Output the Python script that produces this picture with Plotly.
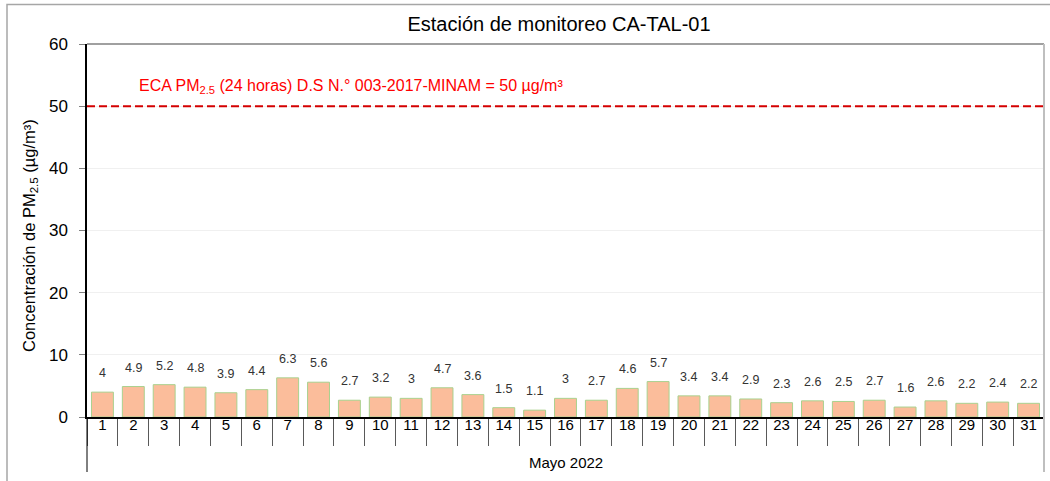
import plotly.graph_objects as go

# ---- data ----
days = [str(d) for d in range(1, 32)]
pm25 = [4, 4.9, 5.2, 4.8, 3.9, 4.4, 6.3, 5.6, 2.7, 3.2, 3, 4.7, 3.6, 1.5, 1.1,
        3, 2.7, 4.6, 5.7, 3.4, 3.4, 2.9, 2.3, 2.6, 2.5, 2.7, 1.6, 2.6, 2.2, 2.4, 2.2]
group_label = "Mayo 2022"
eca_value = 50
title_text = "Estación de monitoreo CA-TAL-01"
eca_text = "ECA PM<sub>2.5</sub> (24 horas) D.S N.° 003-2017-MINAM = 50 µg/m³"
y_title = "Concentración de PM<sub>2.5</sub> (µg/m³)"
y_ticks = [0, 10, 20, 30, 40, 50, 60]

FONT = "Liberation Sans, Arial, sans-serif"
W, H = 1050, 481
L, R, T, B = 87, 6, 44, 64
PW, PH = W - L - R, H - T - B

def px_x(px):
    return (px - L) / PW

def px_y(py):
    return (H - B - py) / PH

fig = go.Figure()
fig.add_trace(go.Bar(
    x=days, y=pm25,
    marker=dict(color="#FBBD9B", line=dict(color="#A9D18E", width=1)),
    hoverinfo="x+y",
))

# value labels above bars (category index positions)
for i, v in enumerate(pm25):
    fig.add_annotation(x=i, y=v, xref="x", yref="y", text=f"{v:g}",
                       showarrow=False, yanchor="middle", yshift=19,
                       font=dict(family=FONT, size=12.5, color="#333333"))

# ECA line
fig.add_shape(type="line", xref="paper", yref="y", x0=0, x1=1, y0=eca_value, y1=eca_value,
              line=dict(color="#D40000", width=2, dash="8px,4px"))
fig.add_annotation(xref="paper", yref="paper", x=px_x(137), y=px_y(87),
                   xanchor="left", yanchor="middle", showarrow=False, text=eca_text,
                   font=dict(family=FONT, size=16, color="#FF0000"))

# y title
fig.add_annotation(xref="paper", yref="paper", x=px_x(30), y=px_y(236), textangle=-90,
                   xanchor="center", yanchor="middle", showarrow=False, text=y_title,
                   font=dict(family=FONT, size=16.5, color="#000000"))

# group label
fig.add_annotation(xref="paper", yref="paper", x=0.5, y=px_y(462),
                   xanchor="center", yanchor="middle", showarrow=False, text=group_label,
                   font=dict(family=FONT, size=15, color="#000000"))

# frame lines
fig.add_shape(type="line", xref="paper", yref="paper", x0=0, x1=1, y0=1, y1=1,
              line=dict(color="#808080", width=1.5))
fig.add_shape(type="line", xref="paper", yref="paper", x0=1, x1=1, y0=px_y(472), y1=1,
              line=dict(color="#BFBFBF", width=2))
fig.add_shape(type="line", xref="paper", yref="paper", x0=0, x1=0, y0=px_y(472), y1=0,
              line=dict(color="#000000", width=1))
# outer chart frame
fig.add_shape(type="rect", xref="paper", yref="paper",
              x0=px_x(7), x1=px_x(1056), y0=px_y(520), y1=px_y(4.5),
              line=dict(color="#A6A6A6", width=1.5), fillcolor="rgba(0,0,0,0)")

fig.update_layout(
    width=W, height=H,
    margin=dict(l=L, r=R, t=T, b=B, autoexpand=False),
    paper_bgcolor="white", plot_bgcolor="white",
    showlegend=False,
    bargap=0.29,
    font=dict(family=FONT, color="#000000"),
    title=dict(text=title_text, x=px_x(559), xref="paper", xanchor="center",
               y=1 - 24 / H, yref="container", yanchor="middle",
               font=dict(family=FONT, size=20, color="#000000")),
    xaxis=dict(
        type="category", showline=True, linecolor="#000000", linewidth=1.5,
        ticks="outside", tickson="boundaries", ticklen=27, tickcolor="#595959", tickwidth=1,
        ticklabelstandoff=-7, automargin=False,
        tickfont=dict(family=FONT, size=15, color="#000000"),
        showgrid=False, zeroline=False, fixedrange=True,
    ),
    yaxis=dict(
        range=[0, 60], tickvals=y_ticks, showline=True, linecolor="#000000", linewidth=1.5,
        ticks="outside", ticklen=6, tickcolor="#808080", tickwidth=1,
        ticklabelstandoff=8, automargin=False,
        tickfont=dict(family=FONT, size=17, color="#000000"),
        showgrid=True, gridcolor="#F0F0F0", gridwidth=1, zeroline=False, fixedrange=True,
    ),
)

fig.write_html("out.html", config={"displayModeBar": False},
               post_script="document.body.style.margin='0';document.body.style.overflow='hidden';")
